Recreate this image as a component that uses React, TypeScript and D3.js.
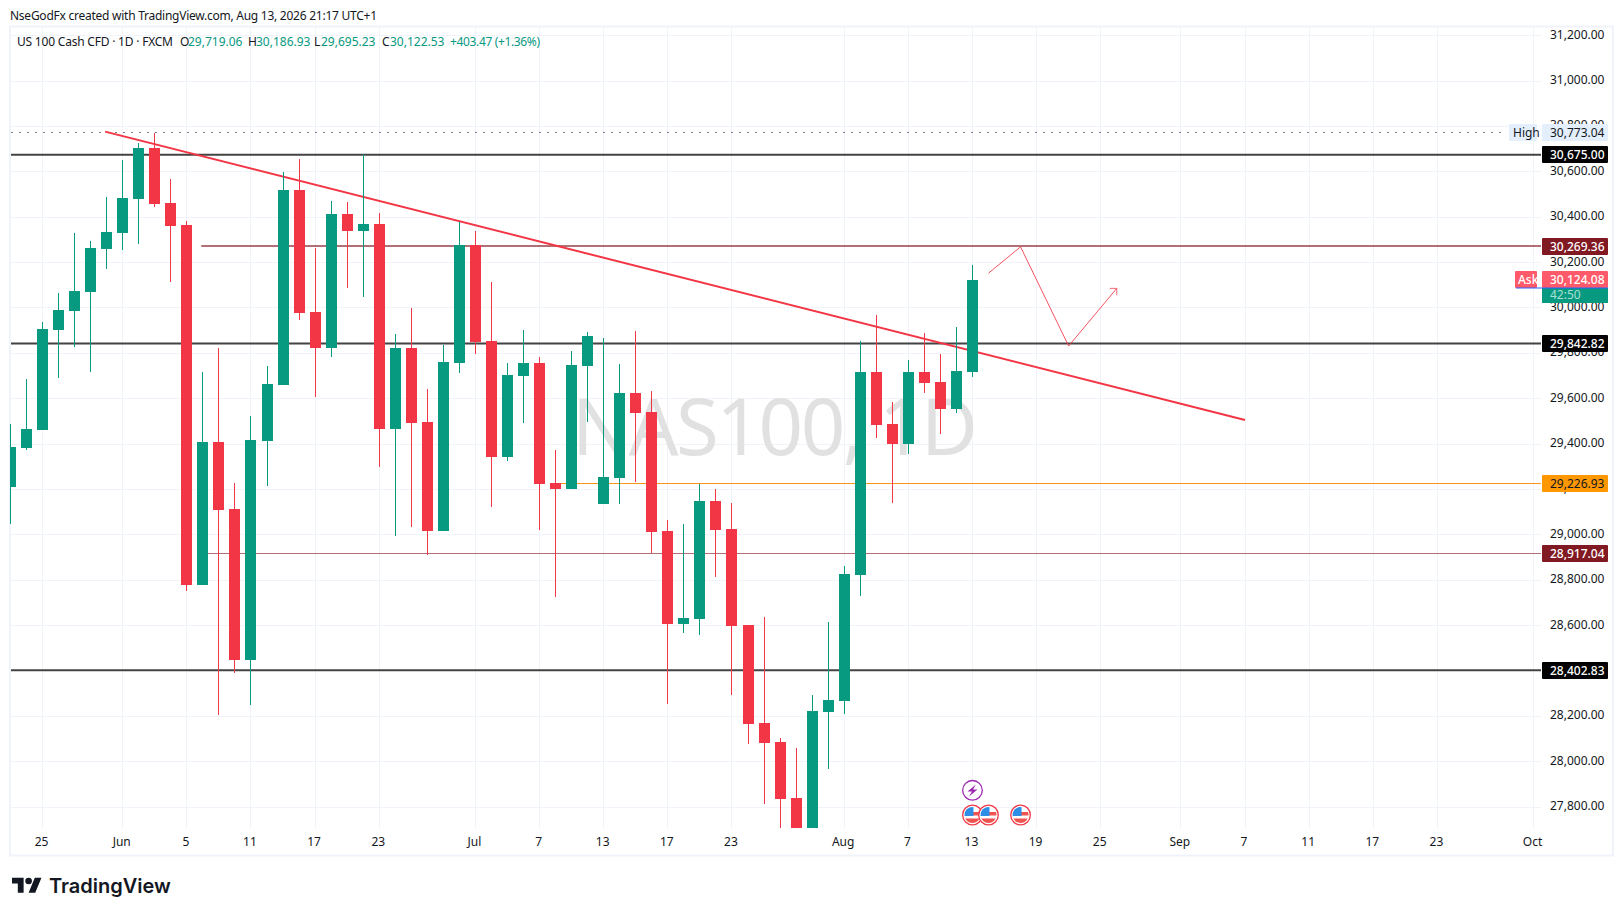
import React from "react";
import * as d3 from "d3";

const opens = [29212,29383,29462,29903,29986,30070,30260,30330,30480,30705,30462,30365,28779,29409,29114,28448,29413,29660,30520,29982,29823,30414,30339,30370,29466,29823,29497,29017,29757,30277,29854,29343,29700,29757,29228,29202,29744,29136,29250,29625,29541,29017,28607,28629,29149,29026,28603,28171,28087,27840,27500,28219,28268,28823,29718,29488,29400,29718,29674,29555,29719];
const highs = [29488,29687,29938,30066,30330,30295,30489,30652,30727,30773,30568,30383,29718,29823,29228,29524,29744,30599,30656,30264,30471,30467,30678,30418,29885,30000,29643,29837,30379,30339,30114,29757,29903,29784,29374,29810,29894,29867,29753,29898,29634,29065,29048,29224,29202,29140,28603,28638,28105,28061,28294,28616,28863,29854,29969,29585,29770,29889,29797,29916,30187];
const lows = [29049,29374,29462,29691,29828,29718,30171,30255,30282,30445,30114,28752,28779,28206,28391,28250,29215,29660,29947,29607,29784,30088,30048,29299,28995,29034,28911,29017,29713,29797,29123,29325,29493,29021,28726,29202,29497,29136,29136,29233,28920,28254,28567,28559,28814,28294,28078,27814,27700,27600,27450,27968,28210,28730,29427,29140,29356,29625,29444,29537,29695];
const closes = [29387,29466,29907,29991,30075,30264,30335,30484,30705,30458,30361,28779,29409,29109,28448,29418,29665,30520,29978,29823,30414,30339,30370,29466,29823,29493,29017,29762,30277,29850,29343,29704,29757,29224,29202,29748,29876,29255,29625,29537,29012,28607,28633,29149,29021,28598,28166,28083,27836,27650,28224,28272,28827,29718,29484,29400,29718,29669,29555,29722,30122.53];

const priceTicks = [31200,31000,30800,30600,30400,30200,30000,29800,29600,29400,29200,29000,28800,28600,28400,28200,28000,27800];
const timeTickIndex = [2,7,11,15,19,23,29,33,37,41,45,52,56,60,64,68,73,77,81,85,89,95];
const timeTickLabel = ["25","Jun","5","11","17","23","Jul","7","13","17","23","Aug","7","13","19","25","Sep","7","11","17","23","Oct"];

const blackLevels = [30675, 29842.82, 28402.83];
const trendIndex = [5.9, 77];
const trendPrice = [30777, 29506];
const pathIndex = [61, 63, 66, 69];
const pathPrice = [30153, 30269, 29832, 30086];
const highPrice = 30773.04;
const askPrice = 30124.08;
const flagIndex = [60, 61, 63];

const GREEN = "#089981";
const RED = "#F23645";
const GRID = "#f0f3fa";
const FONT = "'Noto Sans', sans-serif";
const TXT = "#131722";

const x = d3.scaleLinear().domain([0, 95]).range([10.5, 1533.6]);
const y = d3.scaleLinear().domain([31000, 28200]).range([81, 716.3]);
const fmt = d3.format(",.2f");
const line = d3.line<[number, number]>().x(d => x(d[0])).y(d => y(d[1]));
const crisp = (v: number) => Math.floor(v) + 0.5;

function PriceTag({ price, bg, fg, weight = 400 }: { price: number; bg: string; fg: string; weight?: number }) {
  const c = y(price);
  const top = Math.round(c - 8.5);
  return (
    <g>
      <rect x={1542} y={top} width={66} height={17} fill={bg} rx={1} />
      <text x={1550} y={top + 12.5} fontSize={12} fontWeight={weight} fontFamily={FONT} fill={fg}>{fmt(price)}</text>
    </g>
  );
}

function Flag({ idx }: { idx: number }) {
  const cx = x(idx), cy = 815;
  const id = `flag${idx}`;
  return (
    <g>
      <clipPath id={id}><circle cx={cx} cy={cy} r={8} /></clipPath>
      <circle cx={cx} cy={cy} r={9.8} fill="#fff" stroke={RED} strokeWidth={1.3} />
      <g clipPath={`url(#${id})`}>
        <rect x={cx - 9} y={cy - 9} width={18} height={18} fill="#fff" />
        <rect x={cx} y={cy - 3} width={9} height={3.5} fill="#ef5350" />
        <rect x={cx - 9} y={cy + 3.5} width={18} height={5} fill="#ef5350" />
        <rect x={cx - 9} y={cy - 9} width={10} height={10} fill="#2e8ee6" />
      </g>
    </g>
  );
}

export default function App() {
  const arrowTip: [number, number] = [x(pathIndex[3]), y(pathPrice[3])];
  return (
    <svg width={1623} height={916} style={{ position: "fixed", left: 0, top: 0, display: "block", background: "#fff" }}>
      <defs>
        <clipPath id="pane"><rect x={10} y={26} width={1531} height={802} /></clipPath>
      </defs>

      <text x={10} y={20} fontSize={12} fontFamily={FONT} fill={TXT} textLength={367} lengthAdjust="spacing">NseGodFx created with TradingView.com, Aug 13, 2026 21:17 UTC+1</text>

      <rect x={10} y={26.5} width={1603} height={829} fill="none" stroke={GRID} strokeWidth={2} />

      {priceTicks.map(p => (
        <line key={p} x1={11} x2={1541} y1={crisp(y(p))} y2={crisp(y(p))} stroke={GRID} />
      ))}
      {timeTickIndex.map(i => (
        <line key={i} x1={crisp(x(i))} x2={crisp(x(i))} y1={27} y2={828} stroke={GRID} />
      ))}

      <text x={775} y={455} fontSize={78} fontFamily={FONT} fill="#e1e1e1" textAnchor="middle" textLength={406} lengthAdjust="spacing">NAS100, 1D</text>

      <g clipPath="url(#pane)">
        <line x1={11} x2={1507} y1={crisp(y(highPrice))} y2={crisp(y(highPrice))} stroke="#787b86" strokeWidth={1} strokeDasharray="2 6" />
        {blackLevels.map(p => (
          <line key={p} x1={11} x2={1541} y1={y(p)} y2={y(p)} stroke="#434343" strokeWidth={2} />
        ))}
        <line x1={x(11.9)} x2={1541} y1={Math.floor(y(30269.36))} y2={Math.floor(y(30269.36))} stroke="#801922" strokeOpacity={0.62} strokeWidth={2} />
        <line x1={x(11.9)} x2={1541} y1={crisp(y(28917.04))} y2={crisp(y(28917.04))} stroke="#801922" strokeOpacity={0.62} strokeWidth={1} />
        <line x1={x(34)} x2={1541} y1={crisp(y(29226.93))} y2={crisp(y(29226.93))} stroke="#f7941d" strokeWidth={1} />
        <path d={line(trendIndex.map((v, i) => [v, trendPrice[i]] as [number, number])) || ""} fill="none" stroke={RED} strokeWidth={2} />

        {opens.map((o, i) => {
          const c = closes[i];
          const col = c >= o ? GREEN : RED;
          const cx = Math.floor(x(i));
          const top = Math.round(y(Math.max(o, c)));
          const bot = Math.round(y(Math.min(o, c)));
          const hi = Math.round(y(highs[i]));
          const lo = Math.round(y(lows[i]));
          return (
            <g key={i} shapeRendering="crispEdges" fill={col}>
              <rect x={cx} y={hi} width={1} height={lo - hi} />
              <rect x={cx - 5} y={top} width={11} height={Math.max(1, bot - top)} />
            </g>
          );
        })}

        <path d={line(pathIndex.map((v, i) => [v, pathPrice[i]] as [number, number])) || ""} fill="none" stroke={RED} strokeOpacity={0.85} strokeWidth={1} />
        <path d={`M${arrowTip[0] - 7},${arrowTip[1]}L${arrowTip[0]},${arrowTip[1]}L${arrowTip[0]},${arrowTip[1] + 7}`} fill="none" stroke={RED} strokeOpacity={0.75} strokeWidth={1} />
      </g>

      <g>
        <circle cx={x(60)} cy={790.3} r={9.8} fill="#fff" stroke="#9c27b0" strokeWidth={1.3} />
        <path d={`M${x(60) + 3.5},${784.5}L${x(60) - 5},${791.5}L${x(60) - 0.5},${791.5}L${x(60) - 3.5},${796.5}L${x(60) + 5},${789.5}L${x(60) + 0.5},${789.5}Z`} fill="#9c27b0" />
        {flagIndex.map(i => <Flag key={i} idx={i} />)}
      </g>

      {priceTicks.map(p => (
        <text key={p} x={1550} y={y(p) + 3} fontSize={12} fontFamily={FONT} fill={TXT}>{fmt(p)}</text>
      ))}
      {timeTickIndex.map((i, k) => (
        <text key={k} x={x(i) - 1} y={846} fontSize={12} fontFamily={FONT} fill={TXT} textAnchor="middle">{timeTickLabel[k]}</text>
      ))}

      <rect x={1509} y={Math.round(y(highPrice) - 8.5)} width={28} height={17} fill="#e3effd" rx={1} />
      <text x={1513} y={Math.round(y(highPrice) - 8.5) + 12.5} fontSize={12} fontFamily={FONT} fill={TXT}>High</text>
      <PriceTag price={highPrice} bg="#e3effd" fg={TXT} />
      {blackLevels.map(p => <PriceTag key={p} price={p} bg="#000" fg="#fff" weight={500} />)}
      <PriceTag price={30269.36} bg="#801922" fg="#fff" weight={500} />
      <PriceTag price={28917.04} bg="#801922" fg="#fff" weight={500} />
      <PriceTag price={29226.93} bg="#ff9800" fg="#131722" />

      <rect x={1542} y={288} width={66} height={15} fill={GREEN} />
      <text x={1550} y={298.5} fontSize={12} fontFamily={FONT} fill="#a9e0d3">42:50</text>
      <rect x={1515} y={271} width={22} height={17} fill="#ff5a6a" rx={1} />
      <text x={1518} y={284} fontSize={12} fontWeight={500} fontFamily={FONT} fill="#fff">Ask</text>
      <PriceTag price={askPrice} bg="#ff5a6a" fg="#fff" weight={500} />
      <rect x={1516} y={287.5} width={92} height={1} fill="#2962ff" />

      <g fontSize={12} fontFamily={FONT}>
        <text x={17} y={46} fill={TXT} textLength={156} lengthAdjust="spacing">US 100 Cash CFD · 1D · FXCM</text>
        <text x={180} y={46} fill={TXT}>O</text>
        <text x={188} y={46} fill={GREEN}>29,719.06</text>
        <text x={248} y={46} fill={TXT}>H</text>
        <text x={256} y={46} fill={GREEN}>30,186.93</text>
        <text x={314} y={46} fill={TXT}>L</text>
        <text x={321} y={46} fill={GREEN}>29,695.23</text>
        <text x={382} y={46} fill={TXT}>C</text>
        <text x={390} y={46} fill={GREEN}>30,122.53</text>
        <text x={450} y={46} fill={GREEN} textLength={90} lengthAdjust="spacing">+403.47 (+1.36%)</text>
      </g>

      <g transform="translate(12,874.4) scale(0.83)" fill="#131722">
        <path d="M14 22H7V11H0V4h14v18ZM28 22h-8l7.5-18h8L28 22Z" />
        <circle cx={20} cy={8} r={4} />
      </g>
      <text x={49} y={893} fontSize={20} fontWeight={600} fontFamily="Inter, sans-serif" fill="#131722">TradingView</text>
    </svg>
  );
}
